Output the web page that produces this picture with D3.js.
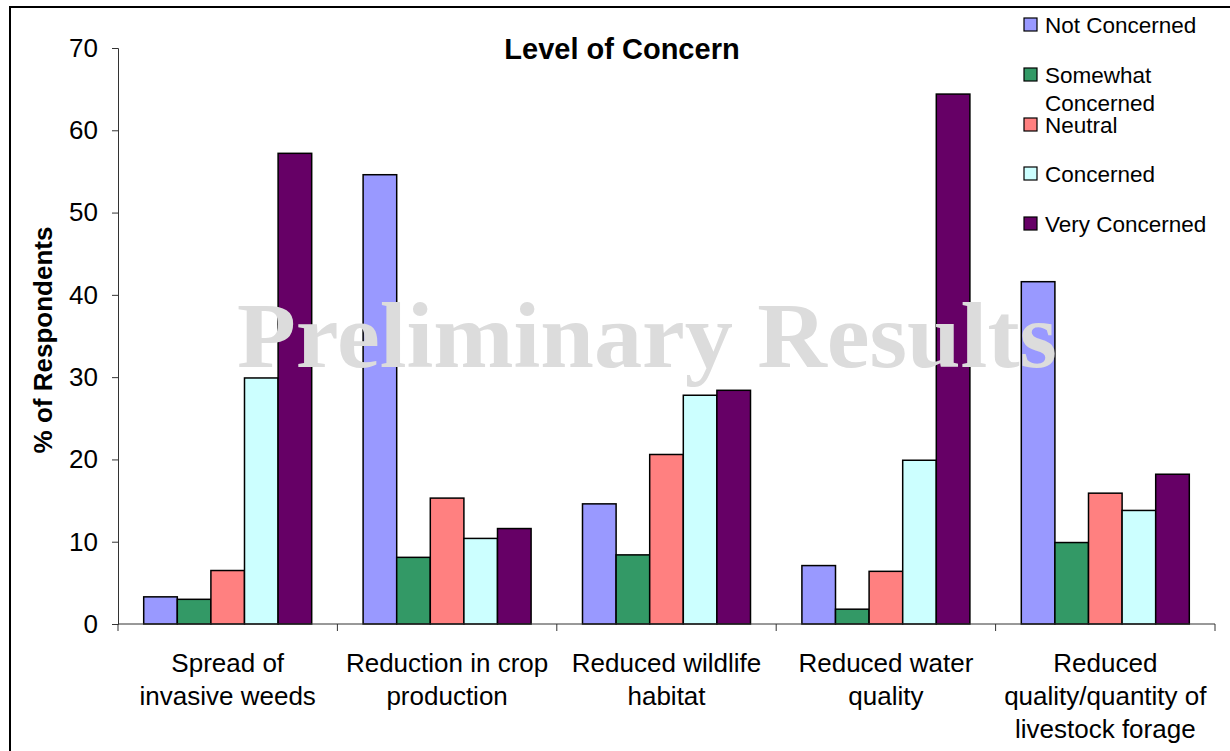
<!DOCTYPE html>
<html>
<head>
<meta charset="utf-8">
<script src="https://cdn.jsdelivr.net/npm/d3@7"></script>
<style>
  body { margin: 0; background: #fff; }
</style>
</head>
<body>
<div id="chart"></div>
<script>
// chart data
const categories = [
    ['Spread of', 'invasive weeds'],
    ['Reduction in crop', 'production'],
    ['Reduced wildlife', 'habitat'],
    ['Reduced water', 'quality'],
    ['Reduced', 'quality/quantity of', 'livestock forage']
];
const seriesNames = ['Not Concerned', 'Somewhat Concerned', 'Neutral', 'Concerned', 'Very Concerned'];
const seriesColors = ['#9999ff', '#339966', '#ff8080', '#ccffff', '#660066'];
const notConcerned = [3.3, 54.6, 14.6, 7.1, 41.6];
const somewhatConcerned = [3.0, 8.1, 8.4, 1.8, 9.9];
const neutral = [6.5, 15.3, 20.6, 6.4, 15.9];
const concerned = [29.9, 10.4, 27.8, 19.9, 13.8];
const veryConcerned = [57.2, 11.6, 28.4, 64.4, 18.2];
const yTicks = [0, 10, 20, 30, 40, 50, 60, 70];

const series = [notConcerned, somewhatConcerned, neutral, concerned, veryConcerned];

const width = 1230, height = 751;
const margin = { left: 118, right: 15, top: 48, bottom: 127 };
const sans = 'Arial, "Liberation Sans", sans-serif';

let svg = d3.select('#chart').append('svg')
    .attr('width', width)
    .attr('height', height)
    .style('font-family', sans);

// outer frame of the chart area
svg.append('path')
    .attr('d', `M10,${height + 5} L10,7 L${width + 5},7`)
    .attr('fill', 'none')
    .attr('stroke', '#000')
    .attr('stroke-width', 2);

let y = d3.scaleLinear()
    .domain([0, 70])
    .range([height - margin.bottom, margin.top]);

let x0 = d3.scaleBand()
    .domain(d3.range(categories.length))
    .range([margin.left, width - margin.right]);

// bars sit together in the middle of each category, ~26px gap each side
let x1 = d3.scaleBand()
    .domain(d3.range(series.length))
    .range([0, x0.bandwidth()])
    .paddingInner(0)
    .paddingOuter(0.765);

// y axis
let yAxis = d3.axisLeft(y).tickValues(yTicks).tickSize(6).tickPadding(14);
let gy = svg.append('g')
    .attr('transform', `translate(${margin.left},0)`)
    .call(yAxis);
gy.select('.domain').attr('stroke', '#333');
gy.selectAll('.tick line').attr('stroke', '#333');
gy.selectAll('.tick text')
    .attr('font-size', 26)
    .attr('font-family', sans)
    .attr('fill', '#000');

// bars
let groups = svg.append('g').selectAll('g')
    .data(categories)
    .join('g')
    .attr('transform', (d, i) => `translate(${x0(i)},0)`);

groups.selectAll('rect')
    .data((d, i) => series.map((s, k) => ({ k: k, v: s[i] })))
    .join('rect')
    .attr('x', d => x1(d.k))
    .attr('y', d => y(d.v))
    .attr('width', x1.bandwidth())
    .attr('height', d => y(0) - y(d.v))
    .attr('fill', d => seriesColors[d.k])
    .attr('stroke', '#000')
    .attr('stroke-width', 1.5);

// x axis with ticks at category boundaries
let bounds = d3.range(categories.length + 1).map(i => margin.left + i * x0.bandwidth());
let gx = svg.append('g');
gx.append('line')
    .attr('x1', margin.left).attr('x2', width - margin.right)
    .attr('y1', y(0)).attr('y2', y(0))
    .attr('stroke', '#333');
gx.selectAll('.bt')
    .data(bounds)
    .join('line')
    .attr('x1', d => d).attr('x2', d => d)
    .attr('y1', y(0)).attr('y2', y(0) + 7)
    .attr('stroke', '#333');

// category labels
svg.append('g').selectAll('text')
    .data(categories)
    .join('text')
    .attr('text-anchor', 'middle')
    .attr('font-size', 26)
    .attr('fill', '#000')
    .attr('transform', (d, i) => `translate(${x0(i) + x0.bandwidth() / 2},672)`)
    .selectAll('tspan')
    .data(d => d)
    .join('tspan')
    .attr('x', 0)
    .attr('y', (d, j) => j * 33)
    .text(d => d);

// title
svg.append('text')
    .attr('x', 622).attr('y', 59)
    .attr('text-anchor', 'middle')
    .attr('font-size', 29)
    .attr('font-weight', 'bold')
    .text('Level of Concern');

// y label
svg.append('text')
    .attr('transform', 'translate(52,340) rotate(-90)')
    .attr('text-anchor', 'middle')
    .attr('font-size', 26)
    .attr('font-weight', 'bold')
    .text('% of Respondents');

// legend
let legendY = [25, 75, 125, 174, 224];
let legend = svg.append('g').selectAll('g')
    .data(seriesNames)
    .join('g')
    .attr('transform', (d, i) => `translate(1024,${legendY[i]})`);
legend.append('rect')
    .attr('x', 0).attr('y', -7)
    .attr('width', 13).attr('height', 13)
    .attr('fill', (d, i) => seriesColors[i])
    .attr('stroke', '#000')
    .attr('stroke-width', 1.2);
legend.append('text')
    .attr('font-size', 22.5)
    .attr('fill', '#000')
    .selectAll('tspan')
    .data(d => d === 'Somewhat Concerned' ? ['Somewhat', 'Concerned'] : [d])
    .join('tspan')
    .attr('x', 21)
    .attr('y', (d, j) => 8 + j * 28)
    .text(d => d);

// watermark on top of the bars
svg.append('text')
    .attr('x', 237).attr('y', 367)
    .style('font-family', '"Times New Roman", "Liberation Serif", serif')
    .attr('font-size', 94)
    .attr('font-weight', 'bold')
    .attr('fill', '#dcdcdc')
    .attr('textLength', 820)
    .attr('lengthAdjust', 'spacingAndGlyphs')
    .text('Preliminary Results');
</script>
</body>
</html>
